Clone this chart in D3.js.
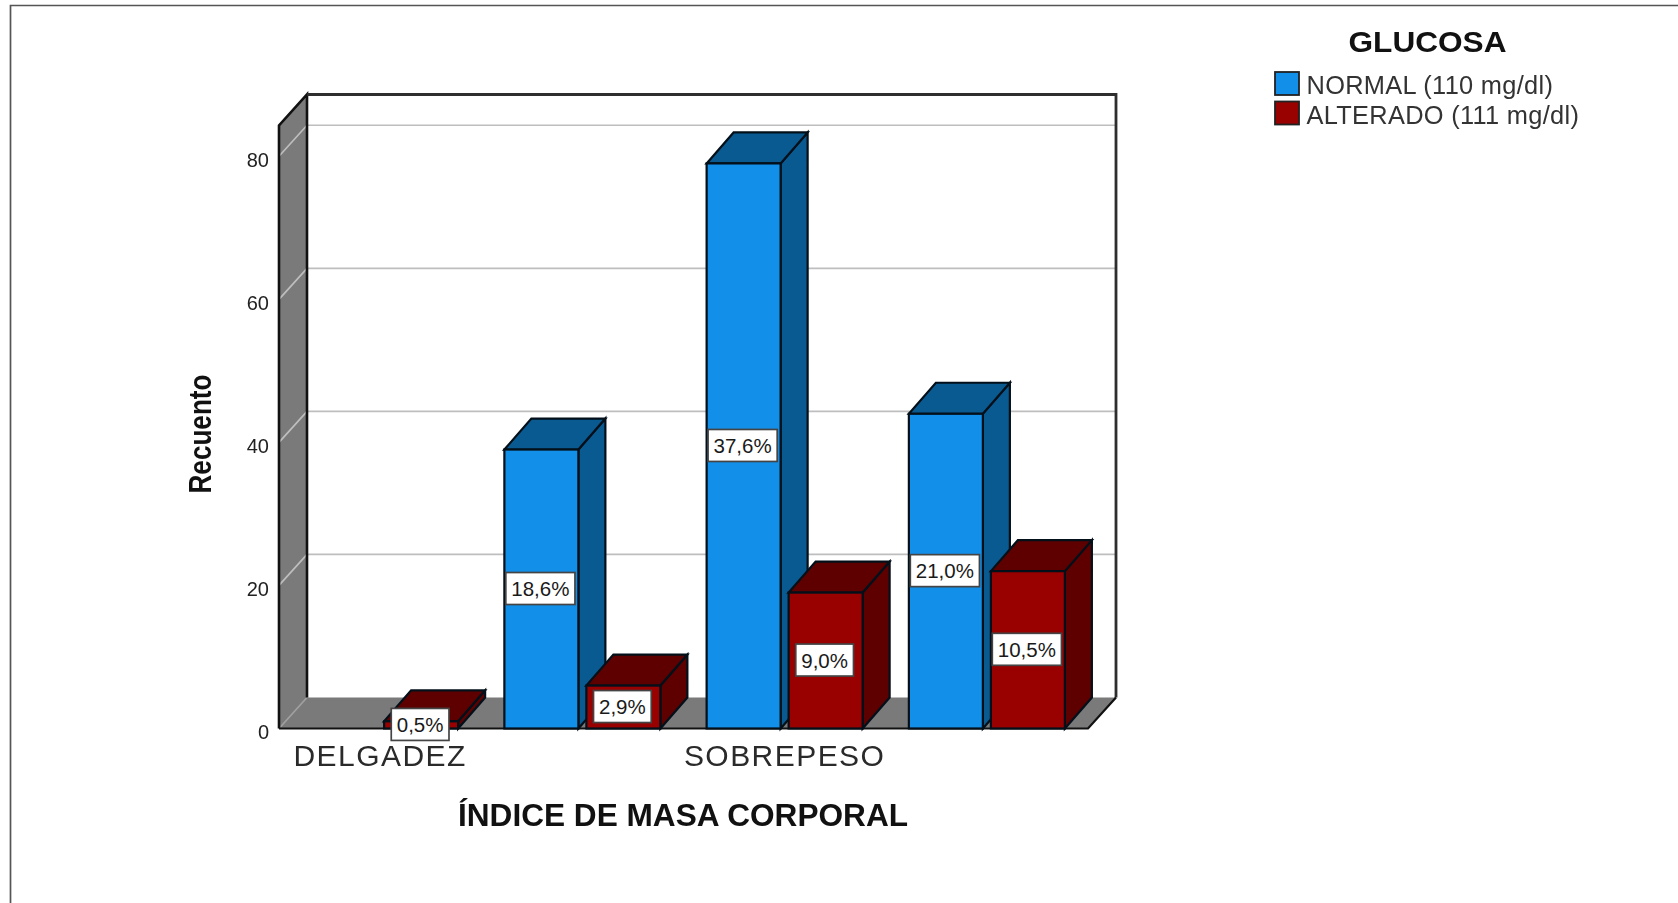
<!DOCTYPE html>
<html><head><meta charset="utf-8">
<script src="https://cdn.jsdelivr.net/npm/d3@7/dist/d3.min.js"></script>
<style>
html,body{margin:0;padding:0;background:#fff;overflow:hidden}
svg{display:block;filter:blur(0.6px)}
text{font-family:"Liberation Sans",Arial,sans-serif}
</style></head><body>
<svg id="c" width="1678" height="903"></svg>
<script>
// Data
const categoryLabels = ["DELGADEZ", "", "SOBREPESO", ""];
const normalValues   = [null, 39, 79, 44];
const alteradoValues = [1, 6, 19, 22];
const normalPercents   = [null, "18,6%", "37,6%", "21,0%"];
const alteradoPercents = ["0,5%", "2,9%", "9,0%", "10,5%"];
const seriesNames = ["NORMAL (110 mg/dl)", "ALTERADO (111 mg/dl)"];
const yTicks = [0, 20, 40, 60, 80];
const yMaxShown = 84.3;
const legendTitle = "GLUCOSA", xTitle = "ÍNDICE DE MASA CORPORAL", yTitle = "Recuento";

const svg = d3.select("#c");
const dx = 28, dy = 31;
const y = d3.scaleLinear().domain([0, yMaxShown]).range([728.5, 125.5]);
const x = d3.scaleBand().domain(d3.range(categoryLabels.length)).range([279, 1088]);
const inner = d3.scaleBand().domain([0, 1]).range([-78, 78]).paddingInner(0.0976);
const frontL = x.range()[0], frontR = x.range()[1];
const pts = a => a.map(p => p.join(",")).join(" ");

// outer image frame
svg.append("path").attr("d", "M10.5,903V5.5H1678").attr("fill", "none").attr("stroke", "#555").attr("stroke-width", 1.7);

// 3-D chart box
const wallFill = "#7a7a7a", edge = "#111";
svg.append("polygon").attr("points", pts([[frontL, y(0)], [frontL + dx, y(0) - dy], [frontR + dx, y(0) - dy], [frontR, y(0)]])).attr("fill", wallFill);
svg.append("polygon").attr("points", pts([[frontL, y(yMaxShown)], [frontL + dx, y(yMaxShown) - dy], [frontL + dx, y(0) - dy], [frontL, y(0)]])).attr("fill", wallFill);

// gridlines through the scale
const grid = svg.append("g");
yTicks.forEach(t => {
  grid.append("path")
    .attr("d", d3.line()([[frontL, y(t)], [frontL + dx, y(t) - dy]].concat(t > 0 ? [[frontR + dx, y(t) - dy]] : [])))
    .attr("fill", "none").attr("stroke", t > 0 ? "#bebebe" : "#a0a0a0").attr("stroke-width", 1.7);
});

// box edges
svg.append("path")
  .attr("d", `M${frontL},${y(0)}V${y(yMaxShown)}L${frontL + dx},${y(yMaxShown) - dy}V${y(0) - dy}`)
  .attr("fill", "none").attr("stroke", edge).attr("stroke-width", 2.6);
svg.append("path")
  .attr("d", `M${frontL + dx},${y(yMaxShown) - dy}H${frontR + dx}V${y(0) - dy}`)
  .attr("fill", "none").attr("stroke", "#2e2e2e").attr("stroke-width", 2.8);
svg.append("path")
  .attr("d", `M${frontL},${y(0)}H${frontR}L${frontR + dx},${y(0) - dy}`)
  .attr("fill", "none").attr("stroke", edge).attr("stroke-width", 2.2);

// bars
const styles = [
  { front: "#128fe9", side: "#0a5a92", top: "#0a5a92" },
  { front: "#990000", side: "#5e0000", top: "#5e0000" }
];
const bars = [];
categoryLabels.forEach((_, i) => {
  [normalValues[i], alteradoValues[i]].forEach((v, s) => {
    if (v == null) return;
    bars.push({ i, s, v, label: (s ? alteradoPercents : normalPercents)[i] });
  });
});
const bx = d => x(d.i) + x.bandwidth() / 2 + inner(d.s);
const bw = inner.bandwidth();
const depthX = 27;
const barG = svg.append("g").selectAll("g").data(bars).join("g")
  .attr("stroke", "#03101a").attr("stroke-width", 2.2).attr("stroke-linejoin", "miter");
barG.append("polygon")
  .attr("points", d => pts([[bx(d) + bw, y(d.v)], [bx(d) + bw + depthX, y(d.v) - dy], [bx(d) + bw + depthX, y(0) - dy], [bx(d) + bw, y(0)]]))
  .attr("fill", d => styles[d.s].side);
barG.append("polygon")
  .attr("points", d => pts([[bx(d), y(d.v)], [bx(d) + depthX, y(d.v) - dy], [bx(d) + bw + depthX, y(d.v) - dy], [bx(d) + bw, y(d.v)]]))
  .attr("fill", d => styles[d.s].top);
barG.append("rect")
  .attr("x", bx).attr("y", d => y(d.v)).attr("width", bw).attr("height", d => y(0) - y(d.v))
  .attr("fill", d => styles[d.s].front);

// value labels
const labelG = svg.append("g").selectAll("g").data(bars).join("g")
  .attr("transform", d => `translate(${bx(d) + bw / 2 - 1},${(y(d.v) + y(0)) / 2 - 0.5})`);
const lt = labelG.append("text").text(d => d.label)
  .attr("text-anchor", "middle").attr("y", 7.5).attr("font-size", 20.5).attr("fill", "#1a1a1a");
labelG.each(function () {
  const g = d3.select(this), w = g.select("text").node().getComputedTextLength() + 11;
  g.insert("rect", "text").attr("x", -w / 2).attr("y", -16).attr("width", w).attr("height", 32)
    .attr("fill", "#fff").attr("stroke", "#444").attr("stroke-width", 1.7);
});

// axes
const yAxis = svg.append("g").attr("transform", `translate(${frontL},0)`)
  .call(d3.axisLeft(y).tickValues(yTicks).tickSize(0).tickPadding(10));
yAxis.select(".domain").remove();
yAxis.selectAll("text").attr("font-size", 20).attr("fill", "#222").attr("font-family", '"Liberation Sans"').attr("dy", "0.5em");

const xAxis = svg.append("g").attr("transform", `translate(0,${y(0)})`)
  .call(d3.axisBottom(x).tickFormat(i => categoryLabels[i]).tickSize(0).tickPadding(13));
xAxis.select(".domain").remove();
xAxis.selectAll("text").attr("font-size", 30).attr("letter-spacing", 1.45).attr("fill", "#2a2a2a")
  .attr("font-family", '"Liberation Sans"').attr("dy", "0.8em");

// axis titles
svg.append("text").text(xTitle).attr("x", 683).attr("y", 826).attr("text-anchor", "middle")
  .attr("font-size", 30.5).attr("font-weight", "bold").attr("fill", "#111").attr("textLength", 450).attr("lengthAdjust", "spacingAndGlyphs");
svg.append("text").text(yTitle).attr("transform", "translate(211,434) rotate(-90)").attr("text-anchor", "middle")
  .attr("font-size", 32).attr("font-weight", "bold").attr("fill", "#111").attr("textLength", 119).attr("lengthAdjust", "spacingAndGlyphs");

// legend
svg.append("text").text(legendTitle).attr("x", 1427.5).attr("y", 52).attr("text-anchor", "middle")
  .attr("font-size", 30).attr("font-weight", "bold").attr("fill", "#111").attr("textLength", 158).attr("lengthAdjust", "spacingAndGlyphs");
const leg = svg.append("g").selectAll("g").data(seriesNames).join("g")
  .attr("transform", (d, i) => `translate(1275,${72 + i * 29.5})`);
leg.append("rect").attr("width", 24).attr("height", 23).attr("fill", (d, i) => styles[i].front)
  .attr("stroke", "#222").attr("stroke-width", 1.8);
leg.append("text").text(d => d).attr("x", 31.5).attr("y", 22).attr("font-size", 25.4).attr("letter-spacing", 0.3).attr("fill", "#333");
</script>
</body></html>
